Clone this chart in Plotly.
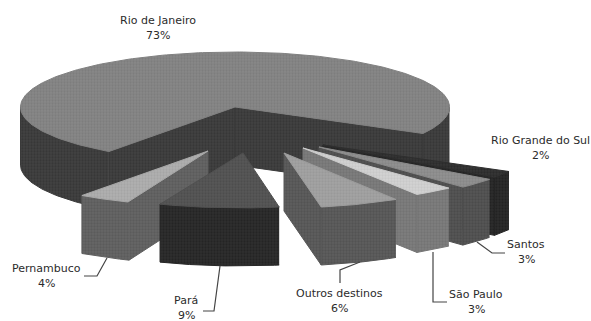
import numpy as np
import plotly.graph_objects as go

# data
cities = ["Rio Grande do Sul", "Santos", "São Paulo", "Outros destinos", "Pará", "Pernambuco", "Rio de Janeiro"]
shares = [2, 3, 3, 6, 9, 4, 73]

# pie geometry in page pixels
CX, CY = 235, 107
RX, RY = 214.5, 55
DEPTH = 58
START = 28.8

offsets = {
    "Rio Grande do Sul": (86, 38),
    "Santos": (81, 40),
    "São Paulo": (67, 41),
    "Outros destinos": (46, 46),
    "Pará": (4, 46),
    "Pernambuco": (-27, 44),
    "Rio de Janeiro": (0, 0),
}
# the original's tips sit a little right of where its rims would put them
tip_shift = {
    "Rio Grande do Sul": 2,
    "Santos": 3,
    "São Paulo": 1,
    "Outros destinos": 3,
    "Pará": 4,
    "Pernambuco": 0,
    "Rio de Janeiro": 0,
}
# (top colour, wall colour)
colors = {
    "Rio Grande do Sul": ("#2e2e2e", "#252525"),
    "Santos": ("#8a8a8a", "#4e4e4e"),
    "São Paulo": ("#cbcbcb", "#767676"),
    "Outros destinos": ("#9c9c9c", "#565656"),
    "Pará": ("#505050", "#272727"),
    "Pernambuco": ("#a8a8a8", "#5e5e5e"),
    "Rio de Janeiro": ("#808080", "#3a3a3a"),
}
draw_order = ["Rio de Janeiro", "Rio Grande do Sul", "Santos", "São Paulo", "Outros destinos", "Pernambuco", "Pará"]

# centre of the name line, the percent sits one line below
label_pos = {
    "Rio de Janeiro": (158, 20),
    "Pernambuco": (46, 268),
    "Pará": (186, 300),
    "Outros destinos": (339, 293),
    "São Paulo": (476, 294),
    "Santos": (526, 244),
    "Rio Grande do Sul": (540, 140),
}
leaders = [
    ([107, 97, 84], [258, 276, 276]),
    ([220, 214, 203], [266, 311, 311]),
    ([360, 340, 340], [262, 270, 283]),
    ([433, 433, 447], [252, 302, 302]),
    ([477, 492, 505], [242, 253, 253]),
]

fig = go.Figure()


def shade(color, delta):
    v = max(0, min(255, int(color[1:3], 16) + delta))
    return f"#{v:02x}{v:02x}{v:02x}"


def poly(xs, ys, color):
    fig.add_trace(go.Scatter(x=xs, y=ys, mode="lines", fill="toself", fillcolor=color,
                             fillpattern=dict(shape=".", size=3, solidity=0.45,
                                              bgcolor=shade(color, 8), fgcolor=shade(color, -14)),
                             line=dict(color=color, width=1), hoverinfo="skip", showlegend=False))


def ell(t, ox, oy):
    r = np.radians(t)
    return ox + RX * np.cos(r), oy + RY * np.sin(r)


# angle spans running clockwise from the right edge
spans = {}
a = START
for name, v in zip(cities, shares):
    spans[name] = (a, a + v * 3.6)
    a += v * 3.6

for name in draw_order:
    t1, t2 = spans[name]
    dx, dy = offsets[name]
    ox, oy = CX + dx, CY + dy
    tx = ox + tip_shift[name]
    top, wall = colors[name]

    # straight cut walls, only those facing the viewer
    for t, show in ((t1, 90 < t1 % 360 < 270), (t2, t2 % 360 < 90 or t2 % 360 > 270)):
        if show:
            ex, ey = ell(t, ox, oy)
            poly([tx, ex, ex, tx, tx], [oy, ey, ey + DEPTH, oy + DEPTH, oy], wall)

    # outer wall, front half of the rim only
    ts = np.linspace(t1, t2, 240)
    front = (ts % 360) < 180
    for part in ([ts[front & (ts < 360)]] if t2 < 360 else [ts[ts < 180.01], ts[(ts >= 360) & (ts % 360 < 180)]]):
        if len(part) > 1:
            ex, ey = ell(part, ox, oy)
            poly(np.r_[ex, ex[::-1]], np.r_[ey, ey[::-1] + DEPTH], wall)

    # top surface
    ex, ey = ell(ts, ox, oy)
    poly(np.r_[tx, ex, tx], np.r_[oy, ey, oy], top)

for xs, ys in leaders:
    fig.add_trace(go.Scatter(x=xs, y=ys, mode="lines", line=dict(color="#444444", width=1.2),
                             hoverinfo="skip", showlegend=False))

for name, v in zip(cities, shares):
    x, y = label_pos[name]
    for text, yy in ((name, y), (f"{v}%", y + 15)):
        fig.add_annotation(x=x, y=yy, text=text, showarrow=False, xanchor="center", yanchor="middle",
                           font=dict(family="DejaVu Sans", size=11, color="#2b2b2b"))

fig.update_xaxes(range=[0, 591], visible=False, fixedrange=True)
fig.update_yaxes(range=[321, 0], visible=False, fixedrange=True)
fig.update_layout(width=591, height=321, margin=dict(l=0, r=0, t=0, b=0),
                  paper_bgcolor="white", plot_bgcolor="white")

fig.write_html("out.html", config={"displayModeBar": False},
               post_script="document.body.style.margin='0';")
